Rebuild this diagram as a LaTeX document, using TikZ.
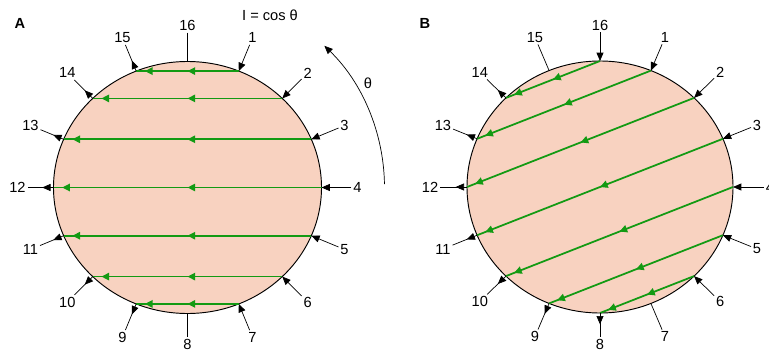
\documentclass[tikz,border=0pt]{standalone}
\usepackage{fontspec}
\setmainfont{Liberation Sans}
\usetikzlibrary{arrows.meta, calc, decorations.markings}
\definecolor{discPeach}{HTML}{F8D2C0}
\definecolor{rayGreen}{HTML}{139A13}
\tikzset{
  disc/.style={draw=black, line width=0.8pt, fill=discPeach},
  num/.style={font=\fontsize{12.5}{14}\selectfont, inner sep=1.5pt},
  inarrow/.style={-{Triangle[length=2.5mm, width=2.1mm]}, line width=0.6pt},
  outarrow/.style={line width=0.6pt, decoration={markings,
      mark=at position 3.4mm with {\arrow{Triangle[length=2.5mm, width=2.1mm]}}},
      postaction=decorate},
  tick/.style={line width=0.6pt},
  ray/.style={draw=rayGreen, line width=1.5pt, decoration={markings,
      mark=at position 0.5 with {\arrow[rayGreen]{Triangle[length=2.3mm, width=2.2mm]}},
      mark=at position -2.6mm with {\arrow[rayGreen]{Triangle[length=2.3mm, width=2.2mm]}}},
      postaction=decorate},
}

\begin{document}
\begin{tikzpicture}[x=0.3mm, y=0.3mm]
\useasboundingbox (0,0) rectangle (769,351);
\coordinate (cA) at (187.5,163.5);
\coordinate (cB) at (600,164);
\draw[disc] (cA) ellipse [x radius=134, y radius=126];
\draw[disc] (cB) ellipse [x radius=133, y radius=126];
% points round each disc, numbered clockwise from the top
\foreach \k in {1,...,16}{
  \pgfmathsetmacro\ry{\k==8 ? 157 : 162}
  \coordinate (a\k) at ($(cA)+({90-22.5*\k}:134 and 126)$);
  \coordinate (b\k) at ($(cB)+({90-22.5*\k}:133 and 126)$);
  \node[num] (la\k) at ($(cA)+({90-22.5*\k}:170 and \ry)$) {\k};
  \node[num] (lb\k) at ($(cB)+({90-22.5*\k}:170 and \ry)$) {\k};
}
% panel A
\foreach \k/\j in {1/15, 2/14, 3/13, 4/12, 5/11, 6/10, 7/9}
  \draw[ray] (a\k) -- (a\j);
\foreach \k in {1,...,7} \draw[inarrow] (la\k) -- (a\k);
\foreach \k in {9,...,15} \draw[outarrow] (a\k) -- (la\k);
\draw[tick] (la16) -- (a16);
\draw[tick] (a8) -- (la8);
% panel B
\foreach \k/\j in {16/14, 1/13, 2/12, 3/11, 4/10, 5/9, 6/8}
  \draw[ray] (b\k) -- (b\j);
\foreach \k in {16,1,2,3,4,5,6} \draw[inarrow] (lb\k) -- (b\k);
\foreach \k in {8,...,14} \draw[outarrow] (b\k) -- (lb\k);
\draw[tick] (lb15) -- (b15);
\draw[tick] (lb7) -- (b7);
% angle
\coordinate (thS) at ($(cA)+(1:197)$);
\draw[inarrow] (thS) arc[start angle=1, end angle=46, radius=197];
\node[num] (th) at (368,268) {θ};
\node[num] (law) at (270,336) {I = cos θ};
\node[font=\fontsize{12.5}{14}\selectfont\bfseries] (pA) at (20,328) {A};
\node[font=\fontsize{12.5}{14}\selectfont\bfseries] (pB) at (425,328) {B};
\end{tikzpicture}
\end{document}
